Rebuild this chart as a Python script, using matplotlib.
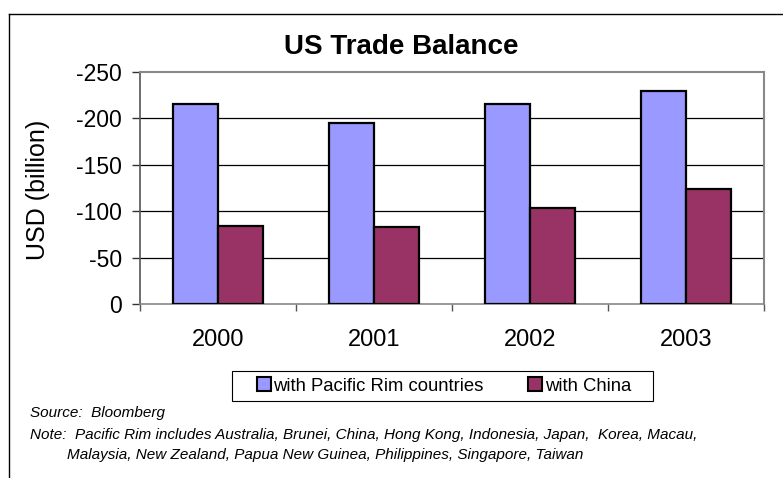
import matplotlib
matplotlib.use("Agg")
import matplotlib.pyplot as plt
from matplotlib.lines import Line2D
from matplotlib.patches import Patch, Rectangle
import numpy as np

years = ["2000", "2001", "2002", "2003"]
pacific_rim = [-216, -195, -215, -230]
china = [-84, -83, -103, -124]
y_ticks = [0, -50, -100, -150, -200, -250]

W, H = 783, 478
plt.rcParams["font.family"] = ["Liberation Sans", "DejaVu Sans"]

fig = plt.figure(figsize=(W / 100, H / 100), dpi=100)


def px(x, y):
    return x / W, 1 - y / H


# outer chart border (top and left visible)
fig.add_artist(Line2D([9 / W, 1.0], [1 - 14 / H] * 2, color="black", lw=1.0, transform=fig.transFigure))
fig.add_artist(Line2D([9 / W] * 2, [1 - 14 / H, 0.0], color="black", lw=1.0, transform=fig.transFigure))

left, top, right, bottom = 140, 72, 764, 304
ax = fig.add_axes([left / W, 1 - bottom / H, (right - left) / W, (bottom - top) / H])

x = np.arange(len(years))
bw = 0.286
ax.bar(x - bw / 2, pacific_rim, bw, color="#9999FF", edgecolor="black", lw=1.6, zorder=3)
ax.bar(x + bw / 2, china, bw, color="#993366", edgecolor="black", lw=1.6, zorder=3)

ax.set_xlim(-0.5, len(years) - 0.5)
ax.set_ylim(0, -250)
ax.set_yticks(y_ticks)
ax.set_yticklabels([str(v) for v in y_ticks], fontsize=16.5)
for v in y_ticks[1:-1]:
    ax.axhline(v, color="black", lw=0.9, zorder=1)

ax.set_xticks(x)
ax.set_xticklabels(years, fontsize=17)
ax.set_xticks(np.arange(-0.5, len(years)), minor=True)
ax.tick_params(axis="x", which="major", length=0, pad=18)
ax.tick_params(axis="x", which="minor", length=5, direction="out", color="#555555", width=1)
ax.tick_params(axis="y", length=6, direction="out", color="#333333", width=1, pad=7)

for side in ("top", "right"):
    ax.spines[side].set_color("#888888")
    ax.spines[side].set_linewidth(1.5)
ax.spines["left"].set_color("#555555")
ax.spines["bottom"].set_color("#888888")
ax.spines["left"].set_linewidth(1.2)
ax.spines["bottom"].set_linewidth(1.2)

ax.set_ylabel("USD (billion)", fontsize=18)
ax.yaxis.set_label_coords(-0.144, 0.49)

fig.text(*px(401, 47), "US Trade Balance", fontsize=20, fontweight="bold", ha="center", va="center")

handles = [
    Patch(facecolor="#9999FF", edgecolor="black", lw=1.5, label="with Pacific Rim countries"),
    Patch(facecolor="#993366", edgecolor="black", lw=1.5, label="with China"),
]
fig.legend(handles=handles, loc="center", bbox_to_anchor=px(444, 386), ncol=2,
           fontsize=13.3, frameon=False,
           handlelength=0.75, handleheight=0.75, handletextpad=0.15, columnspacing=2.4,
           borderpad=0.3, borderaxespad=0)
# legend frame drawn separately (wider horizontal padding than matplotlib allows)
fig.add_artist(Rectangle(px(232, 401), 421 / W, 30 / H, fill=False, edgecolor="black",
                         lw=0.8, transform=fig.transFigure))

fig.text(*px(30, 413), "Source:  Bloomberg", fontsize=11, style="italic", va="center")
fig.text(*px(30, 435), "Note:  Pacific Rim includes Australia, Brunei, China, Hong Kong, Indonesia, Japan,  Korea, Macau,",
         fontsize=11, style="italic", va="center")
fig.text(*px(67, 455), "Malaysia, New Zealand, Papua New Guinea, Philippines, Singapore, Taiwan",
         fontsize=11, style="italic", va="center")

fig.savefig("out.png", dpi=100)
